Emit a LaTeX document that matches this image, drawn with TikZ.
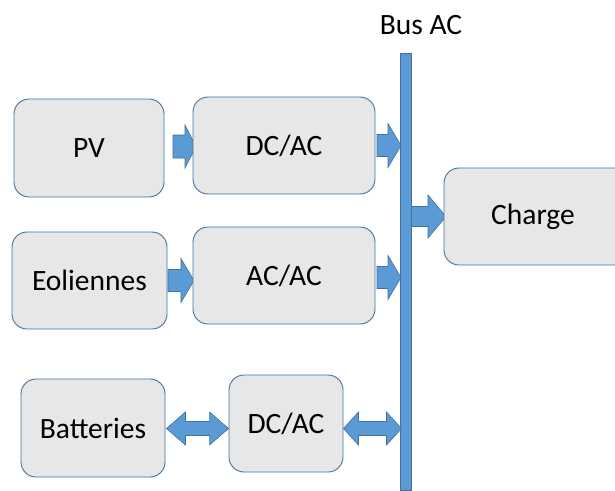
\documentclass[tikz,border=0pt]{standalone}
\usepackage{fontspec}
\setmainfont{Carlito}
\usetikzlibrary{calc}
\definecolor{boxfill}{RGB}{231,231,231}
\definecolor{boxline}{RGB}{65,113,156}
\definecolor{arrfill}{RGB}{91,155,213}
\definecolor{arrline}{RGB}{65,113,156}
\tikzset{
  lblfont/.style={font=\fontsize{29.5}{32}\selectfont, text=black},
  blockbox/.style={draw=boxline, line width=0.9pt, fill=boxfill, rounded corners=15pt,
    inner sep=0pt, lblfont},
  arrowshape/.style={fill=arrfill, draw=arrline, line width=0.6pt, line join=miter},
}
% single block arrow: #1 start, #2 tip, #3 head length, #4 shaft half-width, #5 head half-width
\newcommand\blockarrowR[5]{%
  \path[arrowshape] ($(#1)+(0,#4)$) -- ($(#2)+(-#3,#4)$) -- ($(#2)+(-#3,#5)$) -- (#2)
    -- ($(#2)+(-#3,-#5)$) -- ($(#2)+(-#3,-#4)$) -- ($(#1)+(0,-#4)$) -- cycle;}
% double block arrow: #1 left tip, #2 right tip, #3 head length, #4 shaft half, #5 head half
\newcommand\blockarrowLR[5]{%
  \path[arrowshape] (#1) -- ($(#1)+(#3,-#5)$) -- ($(#1)+(#3,-#4)$) -- ($(#2)+(-#3,-#4)$)
    -- ($(#2)+(-#3,-#5)$) -- (#2) -- ($(#2)+(-#3,#5)$) -- ($(#2)+(-#3,#4)$)
    -- ($(#1)+(#3,#4)$) -- ($(#1)+(#3,#5)$) -- cycle;}
\begin{document}
\begin{tikzpicture}[x=1pt,y=-1pt]
\useasboundingbox (0,0) rectangle (615,490);
% centres of boxes
\path
  (89,148)    coordinate (pvc)
  (284,145.5) coordinate (dc1c)
  (89.5,280.5) coordinate (eolc)
  (284,275.5) coordinate (acacc)
  (93,428)    coordinate (batc)
  (286,423.5) coordinate (dc3c)
  (537,216.5) coordinate (chc);
% bus
\node[arrowshape, minimum width=11pt, minimum height=437pt, inner sep=0pt, anchor=north west]
  (bus) at (400,53) {};
\node[lblfont] (buslbl) at (421,25) {Bus AC};
% arrows (drawn under boxes)
\coordinate (a1s) at ($(pvc)+(84,-1.5)$);
\coordinate (a1t) at ($(pvc)+(107,-1.5)$);
\blockarrowR{a1s}{a1t}{11}{11.5}{21.5}
\coordinate (a2s) at ($(dc1c)+(93,0)$);
\coordinate (a2t) at ($(bus.west |- dc1c)+(1,0)$);
\blockarrowR{a2s}{a2t}{13}{11}{22}
\coordinate (a3s) at ($(eolc)+(78.5,0)$);
\coordinate (a3t) at ($(eolc)+(104.5,0)$);
\blockarrowR{a3s}{a3t}{13}{11}{22}
\coordinate (a4s) at ($(acacc)+(93,2)$);
\coordinate (a4t) at ($(bus.west |- acacc)+(1,2)$);
\blockarrowR{a4s}{a4t}{13}{11}{22}
\coordinate (a5s) at (bus.east |- chc);
\coordinate (a5t) at ($(chc)+(-91,0)$);
\blockarrowR{a5s}{a5t}{18}{10}{21.5}
% boxes
\node[blockbox, minimum width=150pt, minimum height=98pt] (pv) at (pvc) {PV};
\node[blockbox, minimum width=182pt, minimum height=97pt] (dc1) at (dc1c) {DC/AC};
\node[blockbox, minimum width=155pt, minimum height=97pt] (eol) at (eolc) {Eoliennes};
\node[blockbox, minimum width=182pt, minimum height=97pt] (acac) at (acacc) {AC/AC};
\node[blockbox, minimum width=144pt, minimum height=98pt] (bat) at (batc) {Batteries};
\node[blockbox, minimum width=114pt, minimum height=97pt] (dc3) at (dc3c) {DC/AC};
\node[blockbox, minimum width=186pt, minimum height=97pt] (ch) at (chc) {};
\node[lblfont] (chlbl) at (533,217) {Charge};
% double arrows
\coordinate (d1l) at ($(bat.east)+(1,0.5)$);
\coordinate (d1r) at ($(dc3.west |- d1l)$);
\blockarrowLR{d1l}{d1r}{19}{7}{16.5}
\coordinate (d2l) at ($(dc3.east |- d1l)$);
\coordinate (d2r) at ($(bus.west |- d1l)+(1.5,0)$);
\blockarrowLR{d2l}{d2r}{15}{7}{16.5}
\end{tikzpicture}
\end{document}
